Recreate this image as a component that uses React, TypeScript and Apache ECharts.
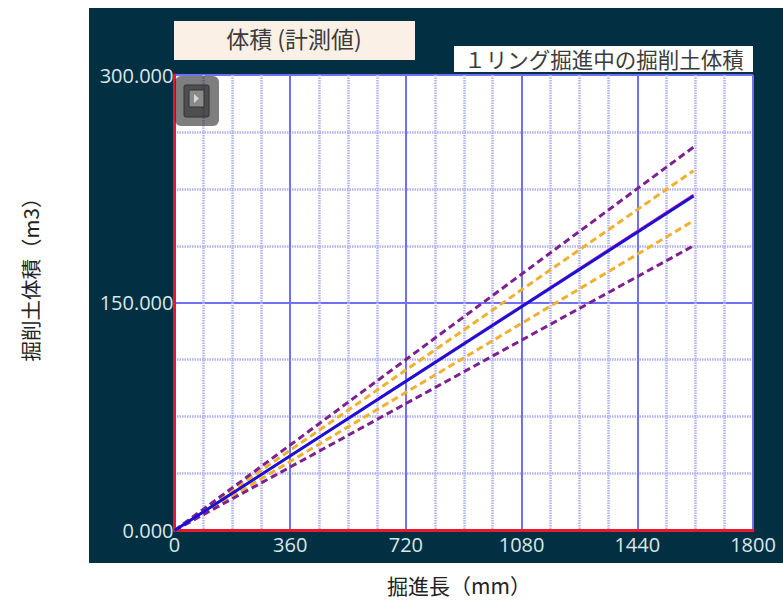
import React, { useEffect, useRef } from "react";
import * as echarts from "echarts";

const xs = [0, 1615];
const upperPurple = [0, 252.5];
const upperOrange = [0, 237];
const planned = [0, 221.3];
const measured = [0, 220.3];
const lowerOrange = [0, 204];
const lowerPurple = [0, 187.5];
const titleText = "体積 (計測値)";
const subtitleText = "１リング掘進中の掘削土体積";
const xName = "掘進長（mm）";
const yName = "掘削土体積（m3）";
const fontCjk = '"Noto Sans CJK JP", "Noto Sans", sans-serif';
const fontNum = '"Open Sans", "Noto Sans", sans-serif';

const pts = (ys: number[]) => xs.map((x, i) => [x, ys[i]]);

const lineSeries = (ys: number[], color: string, dashed: boolean, width: number, z: number) => ({
  type: "line",
  data: pts(ys),
  showSymbol: false,
  symbol: "none",
  z,
  lineStyle: { color, width, type: dashed ? [7, 4] : "solid", cap: "butt" },
});

export default function App() {
  const ref = useRef<HTMLDivElement>(null);
  useEffect(() => {
    const chart = echarts.init(ref.current!, null, { renderer: "svg" });
    chart.setOption({
      animation: false,
      backgroundColor: "#ffffff",
      grid: {
        left: 174.5,
        right: 30,
        top: 75,
        bottom: 69.5,
        show: true,
        backgroundColor: "#ffffff",
        borderWidth: 0,
      },
      xAxis: {
        type: "value",
        min: 0,
        max: 1800,
        interval: 360,
        minorTick: { show: false, splitNumber: 4 },
        axisLine: { show: true, lineStyle: { color: "#e8192c", width: 3 } },
        axisTick: { show: false },
        axisLabel: {
          color: "#d8e8ea",
          fontFamily: fontNum,
          fontSize: 20,
          margin: 4,
          formatter: (v: number) => String(v),
          showMinLabel: true,
          showMaxLabel: true,
        },
        splitLine: { show: true, lineStyle: { color: "#7070f4", width: 2 } },
        minorSplitLine: { show: true, lineStyle: { color: "#b2b2f4", width: 2.5, type: [1.5, 1] } },
      },
      yAxis: {
        type: "value",
        min: 0,
        max: 300,
        interval: 150,
        minorTick: { show: false, splitNumber: 4 },
        axisLine: { show: true, lineStyle: { color: "#e8192c", width: 3 } },
        axisTick: { show: false },
        axisLabel: {
          color: "#d8e8ea",
          fontFamily: fontNum,
          fontSize: 20,
          margin: 1,
          padding: [0, 0, 3, 0],
          formatter: (v: number) => v.toFixed(3),
          showMinLabel: true,
          showMaxLabel: true,
        },
        splitLine: { show: true, lineStyle: { color: "#7070f4", width: 2 } },
        minorSplitLine: { show: true, lineStyle: { color: "#b2b2f4", width: 2.5, type: [1.5, 1] } },
      },
      series: [
        lineSeries(lowerOrange, "#f0b030", true, 3, 3),
        lineSeries(upperOrange, "#f0b030", true, 3, 3),
        lineSeries(lowerPurple, "#7d2190", true, 3, 4),
        lineSeries(upperPurple, "#7d2190", true, 3, 4),
        lineSeries(planned, "#e8308a", false, 2, 5),
        lineSeries(measured, "#1a10d8", false, 3, 6),
      ],
      graphic: [
        { type: "rect", z: -10, silent: true, shape: { x: 89, y: 8, width: 694, height: 555 }, style: { fill: "#032f42" } },
        { type: "rect", z: 10, shape: { x: 174, y: 21, width: 241, height: 39 }, style: { fill: "#fbf0e6" } },
        {
          type: "text", z: 11, x: 294, y: 38,
          style: { text: titleText, fill: "#3c3c3c", font: `23px ${fontCjk}`, align: "center", verticalAlign: "middle" },
        },
        { type: "rect", z: 10, shape: { x: 454, y: 46, width: 299, height: 26 }, style: { fill: "#ffffff" } },
        {
          type: "text", z: 11, x: 604, y: 58,
          style: { text: subtitleText, fill: "#3c3c3c", font: `21.5px ${fontCjk}`, align: "center", verticalAlign: "middle" },
        },
        { type: "rect", z: 12, shape: { x: 175, y: 76, width: 44, height: 50, r: 6 }, style: { fill: "rgba(40,40,40,0.6)" } },
        { type: "rect", z: 13, shape: { x: 184, y: 85, width: 25, height: 32, r: 2 }, style: { fill: "rgba(30,30,30,0.5)", stroke: "#333333", lineWidth: 1 } },
        { type: "rect", z: 14, shape: { x: 189, y: 90, width: 15, height: 17 }, style: { fill: "#8a8a8a", stroke: "#333333", lineWidth: 1 } },
        { type: "polygon", z: 15, shape: { points: [[194, 94], [194, 103], [199, 98.5]] }, style: { fill: "#d8d8d8" } },
        {
          type: "text", z: 11, x: 459, y: 585,
          style: { text: xName, fill: "#222222", font: `21px ${fontCjk}`, align: "center", verticalAlign: "middle" },
        },
        {
          type: "text", z: 11, x: 30, y: 274.5, rotation: Math.PI / 2,
          style: { text: yName, fill: "#222222", font: `20.5px ${fontCjk}`, align: "center", verticalAlign: "middle" },
        },
      ],
    });
    return () => chart.dispose();
  }, []);
  return <div ref={ref} style={{ position: "fixed", left: 0, top: 0, width: 783, height: 600 }} />;
}
